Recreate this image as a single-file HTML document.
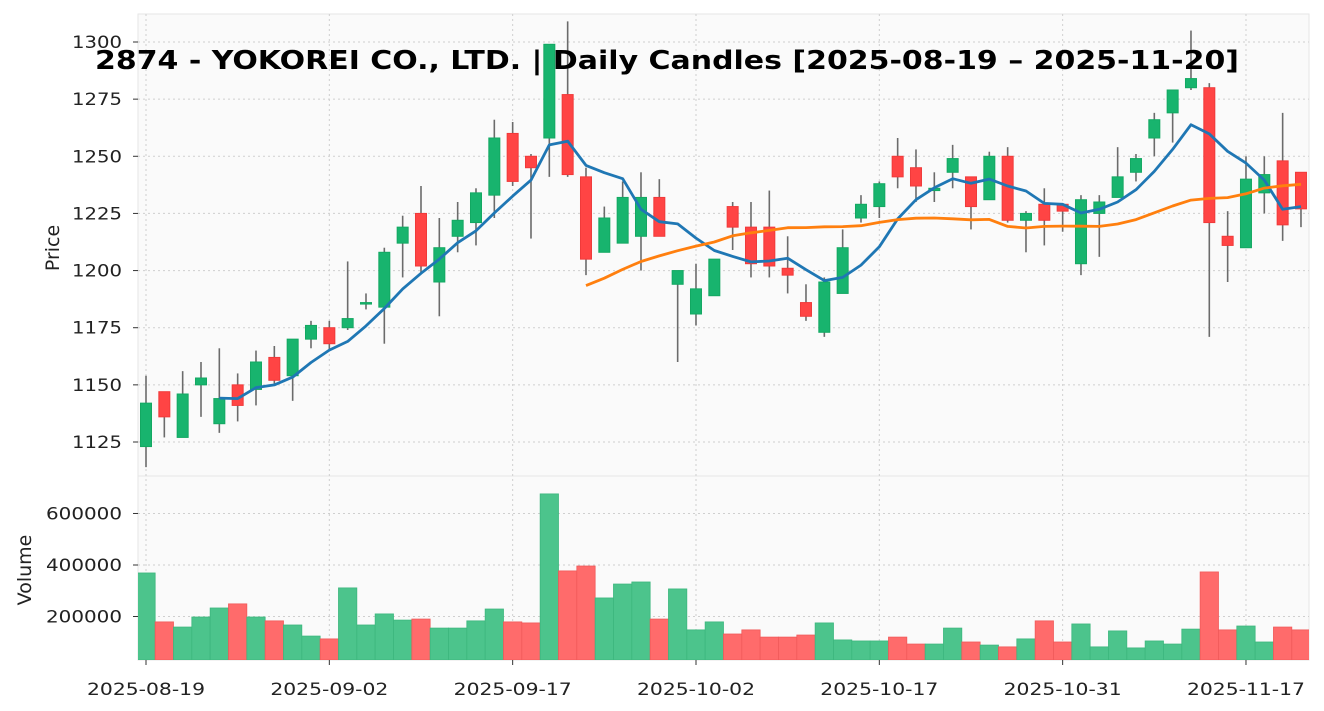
<!DOCTYPE html>
<html><head><meta charset="utf-8"><style>
body{margin:0;background:#fff;}
svg{display:block;font-family:"DejaVu Sans","Liberation Sans",sans-serif;}
</style></head><body>
<svg id="c" width="1324" height="711" viewBox="0 0 1324 711"></svg>
<script>
const tickLabels=["2025-08-19","2025-09-02","2025-09-17","2025-10-02","2025-10-17","2025-10-31","2025-11-17"];
const tickIdx=[0,10,20,30,40,50,60];
const opens=[1123,1147,1127,1150,1133,1150,1148,1162,1154,1170,1175,1175,1186,1184,1212,1225,1195,1215,1221,1233,1260,1250,1258,1277,1241,1208,1212,1215,1232,1194,1181,1189,1228,1219,1219,1201,1186,1173,1190,1223,1228,1250,1245,1235,1243,1241,1231,1250,1222,1229,1229,1203,1225,1232,1243,1258,1269,1280,1280,1215,1210,1234,1248,1243];
const closes=[1142,1136,1146,1153,1144,1141,1160,1152,1170,1176,1168,1179,1186,1208,1219,1202,1210,1222,1234,1258,1239,1245,1299,1242,1205,1223,1232,1232,1215,1200,1192,1205,1219,1203,1202,1198,1180,1195,1210,1229,1238,1241,1237,1236,1249,1228,1250,1222,1225,1222,1226,1231,1230,1241,1249,1266,1279,1284,1221,1211,1240,1242,1220,1227];
const highs=[1154,1147,1156,1160,1166,1155,1165,1167,1170,1178,1178,1204,1190,1210,1224,1237,1223,1230,1236,1266,1265,1251,1299,1309,1245,1228,1239,1243,1240,1200,1203,1205,1230,1230,1235,1215,1194,1197,1218,1233,1239,1258,1253,1243,1255,1241,1252,1254,1226,1236,1229,1233,1233,1254,1251,1269,1279,1305,1282,1226,1250,1250,1269,1243];
const lows=[1114,1127,1127,1136,1129,1134,1141,1150,1143,1166,1165,1174,1183,1168,1197,1199,1180,1208,1211,1223,1237,1214,1241,1241,1198,1208,1212,1200,1215,1160,1176,1189,1209,1197,1197,1190,1178,1171,1190,1221,1223,1236,1230,1230,1236,1218,1231,1221,1208,1211,1217,1198,1206,1232,1239,1250,1256,1279,1171,1195,1210,1225,1213,1219];
const volumes=[369000,179000,159000,198000,233000,249000,198000,183000,167000,124000,113000,311000,167000,210000,186000,190000,155000,155000,183000,229000,179000,175000,676000,377000,396000,272000,326000,334000,190000,307000,148000,179000,132000,148000,120000,120000,128000,175000,109000,105000,105000,120000,93000,93000,155000,101000,89000,82000,113000,183000,101000,171000,82000,144000,78000,105000,93000,151000,373000,148000,163000,101000,159000,148000];
const priceTicks=[1125,1150,1175,1200,1225,1250,1275,1300];
const volTicks=[200000,400000,600000];

const NS="http://www.w3.org/2000/svg";
const svg=document.getElementById('c');
function mk(t,a,p){const e=document.createElementNS(NS,t);for(const k in a)e.setAttribute(k,a[k]);(p||svg).appendChild(e);return e;}
const L=138,R=1309,PT=14,PB=476,VT=476,VB=660;
const x=i=>146+i*18.333;
const py=v=>42+(1300-v)*2.2857;
const vy=v=>668-v/3883;

let e=mk('rect',{x:L,y:PT,width:R-L,height:PB-PT,fill:'#fafafa',stroke:'#e6e6e6'});


e=mk('rect',{x:L,y:VT,width:R-L,height:VB-VT,fill:'#fafafa',stroke:'#e6e6e6'});



tickIdx.forEach((ti,k)=>{
  const g=mk('line',{x1:x(ti),x2:x(ti),y1:PT,y2:VB,stroke:'#cfcfcf','stroke-dasharray':'2,3'});
  
  
  mk('line',{x1:x(ti),x2:x(ti),y1:VB,y2:VB+5,stroke:'#333'});
  const t=mk('text',{x:x(ti),y:695,'text-anchor':'middle','font-size':'17',fill:'#222',textLength:'118',lengthAdjust:'spacingAndGlyphs'});
  t.textContent=tickLabels[k];
  
  
});
priceTicks.forEach(v=>{
  const g=mk('line',{x1:L,x2:R,y1:py(v),y2:py(v),stroke:'#cfcfcf','stroke-dasharray':'2,3'});
  
  
  mk('line',{x1:L-5,x2:L,y1:py(v),y2:py(v),stroke:'#333'});
  const t=mk('text',{x:122,y:py(v)+6,'text-anchor':'end','font-size':'17',fill:'#222',textLength:'50',lengthAdjust:'spacingAndGlyphs'});
  t.textContent=v;
  
  
});
volTicks.forEach(v=>{
  const g=mk('line',{x1:L,x2:R,y1:vy(v),y2:vy(v),stroke:'#cfcfcf','stroke-dasharray':'2,3'});
  
  
  mk('line',{x1:L-5,x2:L,y1:vy(v),y2:vy(v),stroke:'#333'});
  const t=mk('text',{x:122,y:vy(v)+6,'text-anchor':'end','font-size':'17',fill:'#222',textLength:'76',lengthAdjust:'spacingAndGlyphs'});
  t.textContent=v;
  
  
});

const clipV=mk('clipPath',{id:'cv'});mk('rect',{x:L,y:VT,width:R-L,height:VB-VT},clipV);
const gv=mk('g',{'clip-path':'url(#cv)'});
volumes.forEach((v,i)=>{
  const up=closes[i]>=opens[i];
  const b=mk('rect',{x:x(i)-9.17,y:vy(v),width:18.33,height:Math.max(0,VB-vy(v)),fill:up?'#4cc48c':'#ff6b6b',stroke:up?'#3db77e':'#f05a5a','stroke-width':'0.8'},gv);
  
  
});

const clipP=mk('clipPath',{id:'cp'});mk('rect',{x:L,y:PT,width:R-L,height:PB-PT},clipP);
const gp=mk('g',{'clip-path':'url(#cp)'});
opens.forEach((o,i)=>{
  const c=closes[i],up=c>=o;
  const w=mk('line',{x1:x(i),x2:x(i),y1:py(highs[i]),y2:py(lows[i]),stroke:'#6b6b6b','stroke-width':'1.6'},gp);
  
  
  const top=py(Math.max(o,c)),h=Math.max(1.5,Math.abs(py(o)-py(c)));
  const b=mk('rect',{x:x(i)-5.5,y:top,width:11,height:h,fill:up?'#18b46e':'#ff4444',stroke:up?'#13a862':'#f03a3a','stroke-width':'1'},gp);
  
  
});

function ma(n){const r=[];for(let i=n-1;i<closes.length;i++){let s=0;for(let j=i-n+1;j<=i;j++)s+=closes[j];r.push([i,s/n]);}return r;}
[[5,'#1f77b4','ma5-line'],[25,'#ff7f0e','ma25-line']].forEach(([n,col,name])=>{
  const pts=ma(n).map(([i,v])=>x(i).toFixed(1)+','+py(v).toFixed(1)).join(' ');
  const p=mk('polyline',{points:pts,fill:'none',stroke:col,'stroke-width':'2.8','stroke-linejoin':'round'},gp);
  
  
});

let t=mk('text',{x:0,y:0,transform:'translate(59,248) rotate(-90)','text-anchor':'middle','font-size':'19',fill:'#222'});
t.textContent='Price';


t=mk('text',{x:0,y:0,transform:'translate(31,570) rotate(-90)','text-anchor':'middle','font-size':'19',fill:'#222'});
t.textContent='Volume';


t=mk('text',{x:95,y:69,'font-size':'26','font-weight':'bold',fill:'#000',textLength:'1144',lengthAdjust:'spacingAndGlyphs'});
t.textContent='2874 - YOKOREI CO., LTD. | Daily Candles [2025-08-19 – 2025-11-20]';


</script>
</body></html>
